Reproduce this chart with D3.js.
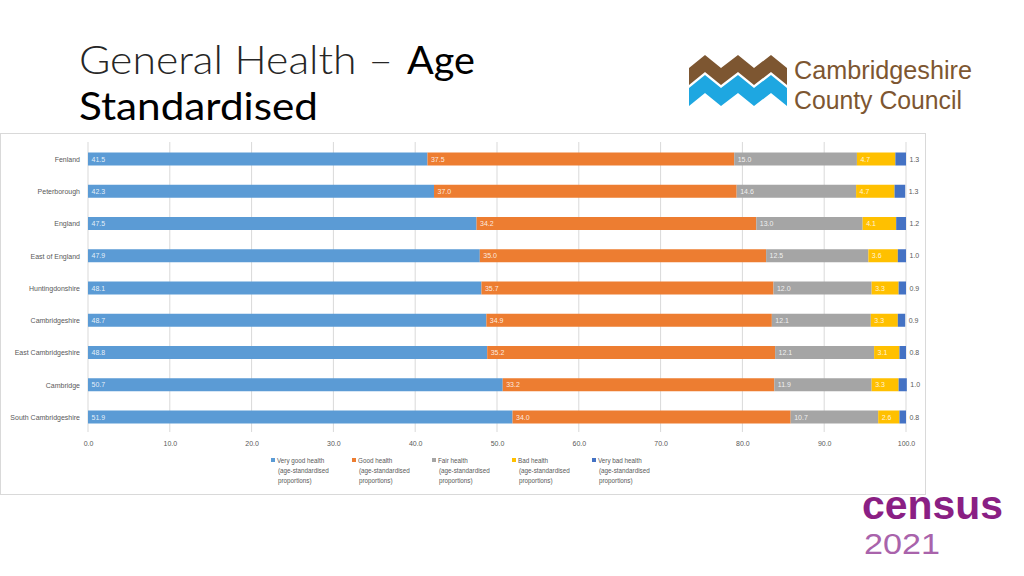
<!DOCTYPE html>
<html><head><meta charset="utf-8">
<script src="https://cdn.jsdelivr.net/npm/d3@7"></script>
<style>html,body{margin:0;padding:0;background:#fff;}svg{display:block;}</style>
</head><body>
<svg id="c" width="1024" height="576"></svg>
<script>
const categories = ["Fenland","Peterborough","England","East of England","Huntingdonshire","Cambridgeshire","East Cambridgeshire","Cambridge","South Cambridgeshire"];
const veryGood = [41.5,42.3,47.5,47.9,48.1,48.7,48.8,50.7,51.9];
const good     = [37.5,37.0,34.2,35.0,35.7,34.9,35.2,33.2,34.0];
const fair     = [15.0,14.6,13.0,12.5,12.0,12.1,12.1,11.9,10.7];
const bad      = [4.7,4.7,4.1,3.6,3.3,3.3,3.1,3.3,2.6];
const veryBad  = [1.3,1.3,1.2,1.0,0.9,0.9,0.8,1.0,0.8];
const xTicks = [0,10,20,30,40,50,60,70,80,90,100];
const seriesNames = ["Very good health","Good health","Fair health","Bad health","Very bad health"];
const seriesColors = ["#5b9bd5","#ed7d31","#a5a5a5","#ffc000","#4472c4"];
const seriesValues = [veryGood, good, fair, bad, veryBad];

const svg = d3.select("#c");

// Title
const t1 = svg.append("text").attr("y",73.5)
  .style("font-family","Lato, 'Open Sans', sans-serif").style("font-size","38.5px");
t1.append("tspan").attr("x",79).text("General Health \u2013").style("font-weight","300").attr("fill","#262626")
  .attr("textLength",314).attr("lengthAdjust","spacingAndGlyphs");
t1.append("tspan").attr("x",407).text("Age").style("font-weight","400").attr("fill","#000")
  .attr("textLength",68).attr("lengthAdjust","spacingAndGlyphs");
svg.append("text").attr("x",79).attr("y",120).text("Standardised")
  .style("font-family","Lato, 'Open Sans', sans-serif").style("font-size","38.5px").style("font-weight","400").attr("fill","#000")
  .attr("textLength",239).attr("lengthAdjust","spacingAndGlyphs");

// Chart frame
svg.append("rect").attr("x",0.5).attr("y",133.5).attr("width",925).attr("height",361)
  .attr("fill","none").attr("stroke","#d9d9d9");

const x = d3.scaleLinear().domain([0,100]).range([88,906]);
const y = d3.scalePoint().domain(categories).range([159,417]);
const barH = 13;

// gridlines
svg.append("g").selectAll("line").data(xTicks).join("line")
  .attr("x1",d=>x(d)).attr("x2",d=>x(d)).attr("y1",142).attr("y2",432)
  .attr("stroke","#d9d9d9").attr("stroke-width",1);

// x axis labels
const xAxis = d3.axisBottom(x).tickValues(xTicks).tickFormat(d3.format(".1f")).tickSize(0).tickPadding(0);
const gx = svg.append("g").attr("transform","translate(0,441)").call(xAxis);
gx.select(".domain").remove();
gx.selectAll("text").attr("fill","#595959").style("font-family","'Liberation Sans', Arial, sans-serif").style("font-size","7px");

// y labels
const yAxis = d3.axisLeft(y).tickSize(0).tickPadding(0);
const gy = svg.append("g").attr("transform","translate(80,0)").call(yAxis);
gy.select(".domain").remove();
gy.selectAll("text").attr("fill","#595959").style("font-family","'Liberation Sans', Arial, sans-serif").style("font-size","7px");

// stacked data
const rows = categories.map((c,i)=>{ const o={cat:c}; seriesNames.forEach((s,k)=>o[s]=seriesValues[k][i]); return o; });
const stack = d3.stack().keys(seriesNames)(rows);

stack.forEach((layer,k)=>{
  const g = svg.append("g");
  g.selectAll("rect").data(layer).join("rect")
    .attr("x",d=>x(d[0])).attr("width",d=>x(d[1])-x(d[0]))
    .attr("y",d=>y(d.data.cat)-barH/2).attr("height",barH)
    .attr("fill",seriesColors[k]);
  if(k<4){
    g.selectAll("text").data(layer).join("text")
      .attr("x",d=>x(d[0])+3.5).attr("y",d=>y(d.data.cat)+2.5)
      .text(d=>d3.format(".1f")(d.data[seriesNames[k]]))
      .attr("fill","#fff").attr("fill-opacity",0.85)
      .style("font-family","'Liberation Sans', Arial, sans-serif").style("font-size","7px");
  } else {
    g.selectAll("text").data(layer).join("text")
      .attr("x",d=>x(d[1])+3.5).attr("y",d=>y(d.data.cat)+2.5)
      .text(d=>d3.format(".1f")(d.data[seriesNames[k]]))
      .attr("fill","#595959")
      .style("font-family","'Liberation Sans', Arial, sans-serif").style("font-size","7px");
  }
});

// legend
const legX = [271,352,432,512,592];
const lg = svg.append("g");
seriesNames.forEach((s,k)=>{
  const gg = lg.append("g").attr("transform",`translate(${legX[k]},461)`);
  gg.append("rect").attr("x",0).attr("y",-3).attr("width",4).attr("height",4).attr("fill",seriesColors[k]);
  const t = gg.append("text").attr("fill","#595959").style("font-family","'Liberation Sans', Arial, sans-serif").style("font-size","6.3px");
  [s,"(age-standardised","proportions)"].forEach((line,j)=>{
    t.append("tspan").attr("x", j===0?6:7).attr("y",1.5+j*10).text(line);
  });
});

// Cambridgeshire County Council logo
const logo = svg.append("g");
const zx = [689,705,721,738,754,771,787];
function zig(top, thick){
  const pts = zx.map((xx,i)=>[xx, top + ((i%2===0)?13:0)]);
  const bot = zx.slice().reverse().map((xx,i)=>{ const idx=zx.length-1-i; return [xx, top + ((idx%2===0)?13:0) + thick]; });
  return "M"+pts.concat(bot).map(p=>p.join(",")).join("L")+"Z";
}
logo.append("path").attr("d",zig(55,17)).attr("fill","#7d5631");
logo.append("path").attr("d",zig(75,18)).attr("fill","#1ea7e1");
logo.append("text").attr("x",794).attr("y",79).text("Cambridgeshire")
  .attr("fill","#7d5631").style("font-family","'Liberation Sans', Arial, sans-serif").style("font-size","26px")
  .attr("textLength",178).attr("lengthAdjust","spacingAndGlyphs");
logo.append("text").attr("x",794).attr("y",109).text("County Council")
  .attr("fill","#7d5631").style("font-family","'Liberation Sans', Arial, sans-serif").style("font-size","26px")
  .attr("textLength",168).attr("lengthAdjust","spacingAndGlyphs");

// Census 2021 logo
svg.append("text").attr("x",862).attr("y",519).text("census")
  .attr("fill","#8a1f84").style("font-family","'Liberation Sans', Arial, sans-serif").style("font-weight","700").style("font-size","40px")
  .attr("textLength",141).attr("lengthAdjust","spacingAndGlyphs");
svg.append("text").attr("x",864).attr("y",554).text("2021")
  .attr("fill","#a963ab").style("font-family","'Liberation Sans', Arial, sans-serif").style("font-weight","400").style("font-size","29px")
  .attr("textLength",76).attr("lengthAdjust","spacingAndGlyphs");
</script>
</body></html>
